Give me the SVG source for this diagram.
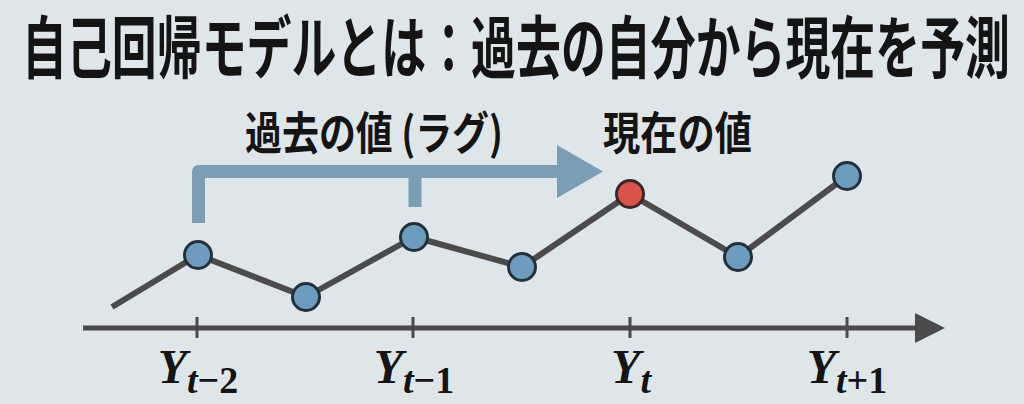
<svg xmlns="http://www.w3.org/2000/svg" width="1024" height="404" viewBox="0 0 1024 404">
  <style>
    .jp { font-family: "Noto Sans CJK JP", "Noto Sans CJK SC", sans-serif; font-weight: 700; fill: #141414; }
    .var { font-family: "Liberation Serif", "DejaVu Serif", serif; font-weight: 700; font-style: italic; fill: #141414; }
    .up { font-style: normal; }
    .pt { fill: #6e9cbf; stroke: #24313b; stroke-width: 3; }
    .pt-now { fill: #d9534b; stroke: #3a2626; stroke-width: 3; }
    .series { fill: none; stroke: #4b4b4b; stroke-width: 6; stroke-linecap: butt; stroke-linejoin: round; }
    .axis { stroke: #4b4b4b; stroke-width: 5; fill: none; }
    .tick { stroke: #4b4b4b; stroke-width: 3; }
    .lag { fill: none; stroke: #7c9eb5; stroke-width: 13; stroke-linejoin: round; }
  </style>
  <rect width="1024" height="404" fill="#dfe6ea"/>

  <text id="title" class="jp" x="22" y="73" font-size="68" textLength="988" lengthAdjust="spacingAndGlyphs">自己回帰モデルとは：過去の自分から現在を予測</text>

  <g id="lag-bracket">
    <path class="lag" d="M198.5,223 V171.5 H560 M415,171.5 V207"/>
    <polygon points="557,145 603,171.5 557,198" fill="#7c9eb5"/>
    <text class="jp" x="245" y="150" font-size="45" textLength="258" lengthAdjust="spacingAndGlyphs">過去の値 (ラグ)</text>
  </g>
  <text id="label-now" class="jp" x="603" y="150" font-size="45" textLength="149" lengthAdjust="spacingAndGlyphs">現在の値</text>

  <g id="axis">
    <line class="axis" x1="83" y1="328" x2="918" y2="328"/>
    <polygon points="915,313 945,328 915,343" fill="#4b4b4b"/>
    <line class="tick" x1="197" y1="317" x2="197" y2="338"/>
    <line class="tick" x1="413" y1="317" x2="413" y2="338"/>
    <line class="tick" x1="630" y1="317" x2="630" y2="338"/>
    <line class="tick" x1="847" y1="317" x2="847" y2="338"/>
    <text class="var" x="198" y="383" font-size="48" text-anchor="middle">Y<tspan font-size="38" dy="10">t<tspan class="up">−2</tspan></tspan></text>
    <text class="var" x="414" y="383" font-size="48" text-anchor="middle">Y<tspan font-size="38" dy="10">t<tspan class="up">−1</tspan></tspan></text>
    <text class="var" x="631" y="383" font-size="48" text-anchor="middle">Y<tspan font-size="38" dy="10">t</tspan></text>
    <text class="var" x="847" y="383" font-size="48" text-anchor="middle">Y<tspan font-size="38" dy="10">t<tspan class="up">+1</tspan></tspan></text>
  </g>

  <g id="connectors">
    <polyline class="series" points="112,307 198,255 306,297 414,237 522,267 630,194 738,257 847,176"/>
  </g>

  <g id="p1"><circle class="pt" cx="198" cy="255" r="13.5"/></g>
  <g id="p2"><circle class="pt" cx="306" cy="297" r="13.5"/></g>
  <g id="p3"><circle class="pt" cx="414" cy="237" r="13.5"/></g>
  <g id="p4"><circle class="pt" cx="522" cy="267" r="13.5"/></g>
  <g id="p5-now"><circle class="pt-now" cx="630" cy="194" r="13.5"/></g>
  <g id="p6"><circle class="pt" cx="738" cy="257" r="13.5"/></g>
  <g id="p7"><circle class="pt" cx="847" cy="176" r="13.5"/></g>
</svg>
